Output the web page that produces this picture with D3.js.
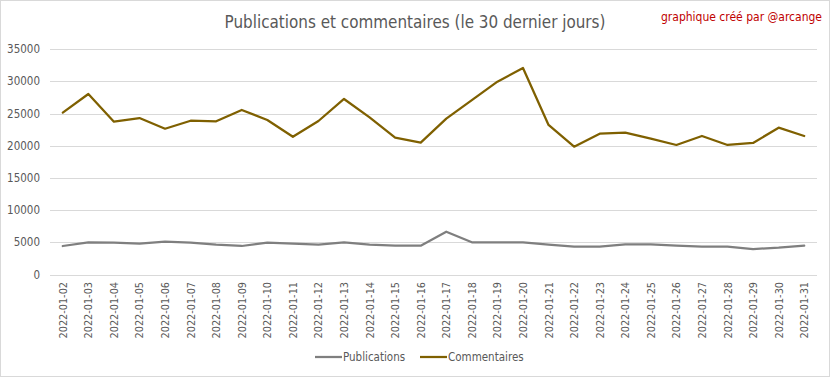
<!DOCTYPE html>
<html>
<head>
<meta charset="utf-8">
<script src="https://cdn.jsdelivr.net/npm/d3@7"></script>
<style>
    body { margin: 0; background: #fff; }
    text { font-family: "Liberation Sans Narrow", "DejaVu Sans Condensed", sans-serif; }
</style>
</head>
<body>
<svg id="chart" width="832" height="378"></svg>
<script>
const dates = [
    "2022-01-02", "2022-01-03", "2022-01-04", "2022-01-05", "2022-01-06", "2022-01-07",
    "2022-01-08", "2022-01-09", "2022-01-10", "2022-01-11", "2022-01-12", "2022-01-13",
    "2022-01-14", "2022-01-15", "2022-01-16", "2022-01-17", "2022-01-18", "2022-01-19",
    "2022-01-20", "2022-01-21", "2022-01-22", "2022-01-23", "2022-01-24", "2022-01-25",
    "2022-01-26", "2022-01-27", "2022-01-28", "2022-01-29", "2022-01-30", "2022-01-31"
];

const publications = [
    4430, 5000, 4950, 4800, 5100, 4950, 4640, 4430, 4950, 4800,
    4640, 5000, 4640, 4480, 4480, 6650, 5000, 5000, 5000, 4640,
    4330, 4330, 4690, 4690, 4480, 4330, 4330, 3960, 4170, 4480
];

const commentaires = [
    25150, 28050, 23750, 24320, 22660, 23900, 23810, 25570, 24010, 21400,
    23860, 27280, 24430, 21260, 20490, 24220, 27110, 29970, 32100, 23240,
    19860, 21890, 22040, 21110, 20130, 21530, 20130, 20440, 22820, 21530
];

const yTicks = [0, 5000, 10000, 15000, 20000, 25000, 30000, 35000];

const seriesNames = ["Publications", "Commentaires"];
const seriesColors = ["#7f7f7f", "#7f6000"];

const svg = d3.select("#chart");

// chart frame
svg.append("rect")
    .attr("x", 0.5).attr("y", 0.5)
    .attr("width", 829).attr("height", 376)
    .attr("fill", "#fff")
    .attr("stroke", "#d9d9d9");

const x = d3.scaleBand().domain(dates).range([50, 817]);
const y = d3.scaleLinear().domain([0, 35000]).range([274.5, 49.3]);

// gridlines
svg.append("g")
    .selectAll("line")
    .data(yTicks)
    .join("line")
    .attr("x1", 50).attr("x2", 817)
    .attr("y1", d => Math.round(y(d)) + 0.5)
    .attr("y2", d => Math.round(y(d)) + 0.5)
    .attr("stroke", "#d9d9d9")
    .attr("stroke-width", 1);

// y labels
svg.append("g")
    .selectAll("text")
    .data(yTicks)
    .join("text")
    .attr("x", 40)
    .attr("y", d => y(d) + 4)
    .attr("text-anchor", "end")
    .attr("font-size", 11.5)
    .attr("fill", "#595959")
    .text(d => d);

// x labels, rotated
svg.append("g")
    .selectAll("text")
    .data(dates)
    .join("text")
    .attr("transform", d => `translate(${x(d) + x.bandwidth() / 2 + 4},282) rotate(-90)`)
    .attr("text-anchor", "end")
    .attr("font-size", 10.8)
    .attr("fill", "#595959")
    .text(d => d);

const line = d3.line()
    .x((d, i) => x(dates[i]) + x.bandwidth() / 2)
    .y(d => y(d));

[publications, commentaires].forEach((values, i) => {
    svg.append("path")
        .datum(values)
        .attr("fill", "none")
        .attr("stroke", seriesColors[i])
        .attr("stroke-width", 2.25)
        .attr("stroke-linejoin", "round")
        .attr("stroke-linecap", "round")
        .attr("d", line);
});

// title + credit
svg.append("text")
    .attr("x", 415).attr("y", 28)
    .attr("text-anchor", "middle")
    .attr("font-size", 16.9)
    .attr("fill", "#595959")
    .text("Publications et commentaires (le 30 dernier jours)");

svg.append("text")
    .attr("x", 822).attr("y", 21)
    .attr("text-anchor", "end")
    .attr("font-size", 12)
    .attr("fill", "#c00000")
    .text("graphique créé par @arcange");

// legend
const legendX = [315, 420];
const legend = svg.append("g")
    .selectAll("g")
    .data(seriesNames)
    .join("g")
    .attr("transform", (d, i) => `translate(${legendX[i]},357)`);

legend.append("line")
    .attr("x1", 0).attr("x2", 27)
    .attr("stroke", (d, i) => seriesColors[i])
    .attr("stroke-width", 2.25);

legend.append("text")
    .attr("x", 28).attr("y", 4)
    .attr("font-size", 11.5)
    .attr("fill", "#595959")
    .text(d => d);
</script>
</body>
</html>
